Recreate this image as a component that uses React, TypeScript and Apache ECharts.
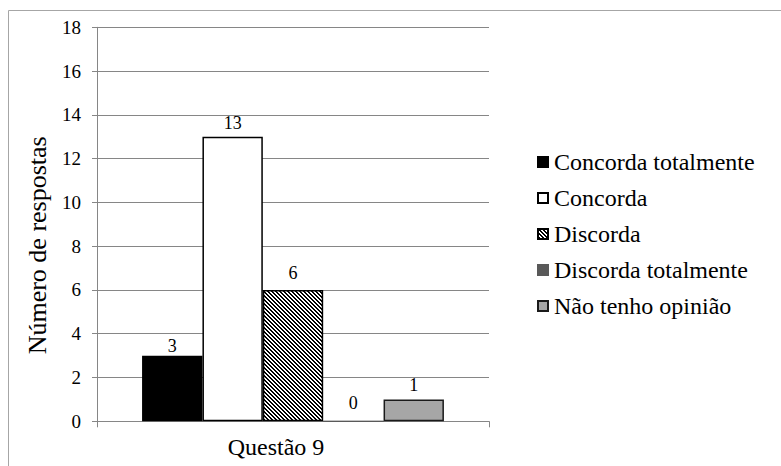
import React, { useEffect, useRef } from 'react';
import * as echarts from 'echarts';

const categories = ['Questão 9'];
const seriesNames = ['Concorda totalmente', 'Concorda', 'Discorda', 'Discorda totalmente', 'Não tenho opinião'];
const seriesValues = [3, 13, 6, 0, 1];
const yMin = 0;
const yMax = 18;
const yInterval = 2;
const yTitle = 'Número de respostas';

const FONT = 'Liberation Serif';
const AXIS_GRAY = '#868686';

function makeHatch(): any {
  const size = 4;
  const c = document.createElement('canvas');
  c.width = size;
  c.height = size;
  const ctx = c.getContext('2d')!;
  ctx.fillStyle = '#ffffff';
  ctx.fillRect(0, 0, size, size);
  ctx.fillStyle = '#000000';
  for (let y = 0; y < size; y++) {
    for (let x = 0; x < size; x++) {
      if ((((x - y) % size) + size) % size < 2) ctx.fillRect(x, y, 1, 1);
    }
  }
  return { image: c.toDataURL(), repeat: 'repeat', imageWidth: size, imageHeight: size };
}

export default function App() {
  const ref = useRef<HTMLDivElement>(null);
  useEffect(() => {
    if (!ref.current) return;
    const chart = echarts.init(ref.current, null, { renderer: 'svg' });
    const hatch = makeHatch();
    const styles = [
      { color: '#000000', borderColor: '#000000', borderWidth: 1.5 },
      { color: '#ffffff', borderColor: '#000000', borderWidth: 1.5 },
      { color: hatch, borderColor: '#000000', borderWidth: 1.5 },
      { color: '#595959', borderColor: '#595959', borderWidth: 1 },
      { color: '#a6a6a6', borderColor: '#1a1a1a', borderWidth: 1.5 },
    ];
    const labelDistances = [1, 5, 8, 9, 5];
    chart.setOption({
      animation: false,
      backgroundColor: '#ffffff',
      graphic: [
        {
          type: 'rect',
          shape: { x: 8.5, y: 10.5, width: 900, height: 600 },
          style: { fill: 'none', stroke: '#a6a6a6', lineWidth: 1 },
          silent: true,
          z: -1,
        },
      ],
      grid: { left: 97, right: 292, top: 27.3, bottom: 44.7, containLabel: false },
      legend: {
        orient: 'vertical',
        left: 532,
        top: 145,
        icon: 'rect',
        itemWidth: 10,
        itemHeight: 10,
        itemGap: 12,
        selectedMode: false,
        textStyle: { fontFamily: FONT, fontSize: 24, color: '#000', padding: [0, 0, 0, 1] },
        data: seriesNames,
      },
      xAxis: {
        type: 'category',
        data: categories,
        axisLine: { show: true, lineStyle: { color: AXIS_GRAY, width: 1 } },
        axisTick: { show: true, length: 6, lineStyle: { color: AXIS_GRAY } },
        axisLabel: { fontFamily: FONT, fontSize: 24, color: '#000', margin: 14, padding: [0, 34, 0, 0] },
      },
      yAxis: {
        type: 'value',
        min: yMin,
        max: yMax,
        interval: yInterval,
        name: yTitle,
        nameLocation: 'middle',
        nameRotate: 90,
        nameGap: 47,
        nameTextStyle: { fontFamily: FONT, fontSize: 26, color: '#000', padding: [0, 42, 0, 0] },
        axisLine: { show: true, lineStyle: { color: AXIS_GRAY, width: 1 } },
        axisTick: { show: true, length: 5, lineStyle: { color: AXIS_GRAY } },
        splitLine: { show: true, lineStyle: { color: AXIS_GRAY, width: 1 } },
        axisLabel: { fontFamily: FONT, fontSize: 19, color: '#000', margin: 16 },
      },
      series: seriesNames.map((name, i) => ({
        name,
        type: 'bar',
        data: [seriesValues[i]],
        barGap: '0%',
        barCategoryGap: '23%',
        itemStyle: styles[i],
        label: {
          show: true,
          position: 'top',
          distance: labelDistances[i],
          fontFamily: FONT,
          fontSize: 18,
          color: '#000',
        },
      })),
    });
    return () => chart.dispose();
  }, []);
  return <div ref={ref} style={{ position: 'fixed', left: 0, top: 0, width: 781, height: 466 }} />;
}
